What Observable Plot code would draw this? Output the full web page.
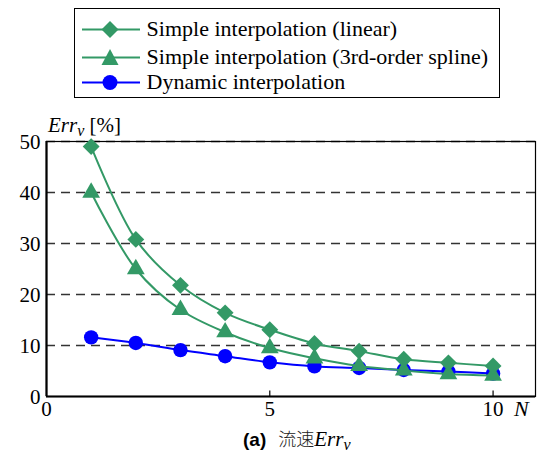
<!DOCTYPE html>
<html><head>
<script src="https://cdn.jsdelivr.net/npm/d3@7"></script>
<script src="https://cdn.jsdelivr.net/npm/@observablehq/plot@0.6"></script>
</head>
<body style="margin:0;background:#fff;">
<div id="p"></div>
<script>
const N = [1, 2, 3, 4, 5, 6, 7, 8, 9, 10];
const linearErr = [49, 30.8, 21.8, 16.4, 13.1, 10.4, 8.9, 7.3, 6.6, 6.0];
const splineErr = [40, 25, 17, 12.6, 9.5, 7.5, 6.0, 5.1, 4.4, 4.1];
const dynamicErr = [11.6, 10.5, 9.1, 7.9, 6.7, 5.9, 5.6, 5.2, 4.9, 4.5];
const seriesNames = ["Simple interpolation (linear)", "Simple interpolation (3rd-order spline)", "Dynamic interpolation"];
const seriesColors = ["#339966", "#339966", "#0000ff"];
const yTicks = [0, 10, 20, 30, 40, 50];
const xTicks = [0, 5, 10];
const captionCJK = "\u6D41\u901F";

const green = seriesColors[0], blue = seriesColors[2];
const mk = (vals) => N.map((n, i) => ({n, v: vals[i]}));
const dLin = mk(linearErr), dSpl = mk(splineErr), dDyn = mk(dynamicErr);

const chart = Plot.plot({
  width: 539, height: 459,
  marginTop: 141, marginLeft: 46, marginRight: 4, marginBottom: 63,
  x: {domain: [0, 10.95]},
  y: {domain: [0, 50]},
  style: {fontFamily: "Liberation Serif", fontSize: "21px"},
  marks: [
    Plot.gridY(yTicks.slice(1), {stroke: "#333", strokeOpacity: 1, strokeWidth: 1.6, strokeDasharray: "9,6"}),
    Plot.frame({stroke: "#000", strokeWidth: 1.2}),
    Plot.ruleY([0], {stroke: "#000", strokeWidth: 2.2}),
    Plot.ruleX([0], {stroke: "#000", strokeWidth: 2.2}),
    Plot.ruleX(xTicks.slice(1), {y1: 0, y2: 1.1, stroke: "#000", strokeWidth: 1.2}),
    Plot.axisY(yTicks, {tickSize: 0, tickPadding: 6, dy: 1, label: null}),
    Plot.axisX(xTicks, {tickSize: 0, tickPadding: 5, label: null}),
    Plot.line(dDyn, {x: "n", y: "v", stroke: blue, strokeWidth: 2, curve: "catmull-rom"}),
    Plot.dot(dDyn, {x: "n", y: "v", fill: blue, r: 7.2, symbol: "circle"}),
    Plot.line(dSpl, {x: "n", y: "v", stroke: green, strokeWidth: 2, curve: "catmull-rom"}),
    Plot.dot(dSpl, {x: "n", y: "v", fill: green, r: 6.6, symbol: "triangle"}),
    Plot.line(dLin, {x: "n", y: "v", stroke: green, strokeWidth: 2, curve: "catmull-rom"}),
    Plot.dot(dLin, {x: "n", y: "v", fill: green, r: 7.6, symbol: "diamond2"})
  ]
});
document.getElementById("p").appendChild(chart);

const F = "font-family:'Liberation Serif';";
function addDiv(css, html) {
  const d = document.createElement("div");
  d.style.cssText = "position:absolute;white-space:nowrap;line-height:1;color:#000;" + css;
  d.innerHTML = html;
  document.body.appendChild(d);
  return d;
}

// legend
const sym = [
  '<path d="M29,3 L37.5,11.5 L29,20 L20.5,11.5Z" fill="'+green+'"/>',
  '<path d="M29,3 L37.5,19 L20.5,19Z" fill="'+green+'"/>',
  '<circle cx="29" cy="11.5" r="7.5" fill="'+blue+'"/>'
];
addDiv("left:74px;top:8px;width:424px;height:88px;border:1.6px solid #000;background:#fff;", "");
const rowTops = [17.6, 45.6, 70.6];
seriesNames.forEach((name, i) => {
  addDiv("left:80.6px;top:" + rowTops[i] + "px;", '<svg width="60" height="24" style="display:block"><line x1="1" x2="59" y1="11.5" y2="11.5" stroke="'+seriesColors[i]+'" stroke-width="2.2"/>'+sym[i]+'</svg>');
  addDiv("left:146.6px;top:" + rowTops[i] + "px;" + F + "font-size:22px;", name);
});

// y label
addDiv("left:48px;top:115px;font-size:21px;" + F,
  '<i>Err</i><sub style="font-size:16px;vertical-align:-4px;"><i>v</i></sub> [%]');

// N label
addDiv("left:514px;top:398px;font-size:22px;" + F, '<i>N</i>');

// caption
addDiv("left:243px;top:429px;font-size:20px;" + F,
  '<span style="font-family:\'Liberation Sans\';font-weight:bold;font-size:19px;">(a)</span>' +
  '<span style="display:inline-block;width:12px;"></span>' +
  '<span style="font-family:\'Noto Sans CJK JP\';font-weight:300;font-size:18px;color:#222;">' + captionCJK + '</span>' +
  '<i style="font-size:21px;">Err</i><sub style="font-size:16px;vertical-align:-4px;"><i>v</i></sub>');
</script></body></html>
